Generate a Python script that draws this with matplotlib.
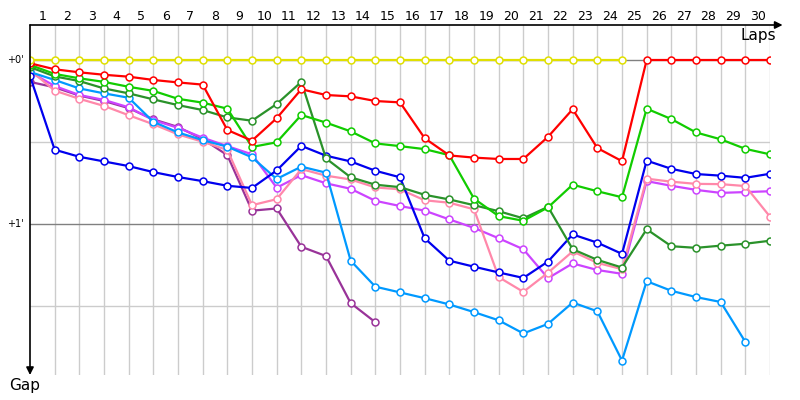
import numpy as np
import matplotlib
matplotlib.use("Agg")
from matplotlib import pyplot as plt

# laps 0..30, gap to leader in seconds (None = no data)
laps = list(range(0, 31))
lap_labels = [str(i) for i in range(1, 31)]

yellow = [0.0] * 25 + [None] * 6
red = [1.2, 3.4, 4.5, 5.4, 6.1, 7.3, 8.2, 9.0, 25.6, 29.5, 21.3, 10.7, 12.8, 13.3, 15.0, 15.5,
       28.6, 34.9, 35.7, 36.2, 36.2, 28.1, 18.0, 32.2, 37.0, 0, 0, 0, 0, 0, 0]
green = [1.8, 5.1, 6.7, 8.0, 9.8, 11.3, 14.2, 15.6, 17.8, 31.8, 30.1, 20.1, 22.9, 26.1, 30.5, 31.5,
         32.6, 34.8, 50.7, 57.1, 58.8, 53.9, 45.6, 48.0, 50.2, 17.8, 21.6, 26.5, 29.0, 32.5, 34.5]
darkgreen = [2.6, 6.0, 7.7, 10.4, 12.2, 14.4, 16.5, 18.3, 21.0, 22.2, 16.1, 8.0, 36.0, 42.9, 45.6, 46.5,
             49.3, 51.0, 53.1, 55.3, 57.9, 53.7, 69.2, 73.1, 75.9, 61.9, 68.1, 68.7, 67.9, 67.2, 66.1]
blue = [5.9, 32.8, 35.4, 37.1, 38.8, 41.0, 42.8, 44.3, 46.0, 46.8, 40.4, 31.4, 35.0, 37.1, 40.5, 42.9,
        65.2, 73.4, 75.6, 77.7, 79.7, 73.7, 63.8, 66.8, 70.9, 36.8, 39.8, 41.7, 42.3, 43.1, 41.6]
lightblue = [4.4, 7.3, 10.4, 12.2, 13.8, 22.6, 26.5, 29.3, 31.7, 35.6, 43.5, 39.0, 41.2, 73.4, 82.9, 85.0,
             87.1, 89.4, 92.2, 95.2, 100.0, 96.5, 88.7, 91.9, 109.9, 80.9, 84.4, 86.7, 88.5, 103.1, None]
pink = [3.7, 11.2, 14.2, 16.8, 20.2, 23.5, 27.2, 29.9, 32.9, 53.1, 50.9, 39.9, 42.3, 43.7, 46.6, 47.3,
        51.3, 52.2, 54.6, 79.4, 84.8, 77.8, 70.0, 74.2, 76.5, 43.4, 44.5, 45.3, 45.4, 46.1, 57.3]
violet = [4.4, 9.5, 12.8, 14.6, 17.3, 22.0, 24.8, 28.4, 31.5, 34.5, 46.7, 42.1, 45.1, 47.1, 51.5, 53.4,
          55.1, 58.3, 61.4, 65.2, 69.2, 79.8, 74.4, 76.8, 78.2, 44.3, 46.0, 47.5, 48.6, 48.3, 48.0]
purple = [8.0, 10.0, 13.0, 15.0, 17.6, 21.7, 24.5, 28.9, 34.8, 55.1, 54.3, 68.3, 71.7, 88.9, 95.9] + [None] * 16

series = [
    (purple, "#993399"),
    (violet, "#cc44ff"),
    (pink, "#ff88aa"),
    (lightblue, "#0099ff"),
    (blue, "#0000ee"),
    (darkgreen, "#2a922a"),
    (green, "#11cc00"),
    (red, "#ff0000"),
    (yellow, "#e0e000"),
]

fig = plt.figure(figsize=(8, 4), dpi=100)
ax = fig.add_axes([30 / 800, 25 / 400, 740 / 800, 350 / 400])

# grid
for x in laps[1:]:
    ax.axvline(x, color="#cccccc", lw=1, zorder=0)
for y in [30, 90]:
    ax.axhline(y, color="#cccccc", lw=1, zorder=0)
for y in [0, 60]:
    ax.axhline(y, color="#808080", lw=1, zorder=0)

for vals, col in series:
    v = np.array([np.nan if a is None else a for a in vals], dtype=float)
    ax.plot(laps, v, color=col, lw=1.6, marker="o", ms=5, mfc="white", mec=col, mew=1.1, zorder=3)

ax.set_xlim(0, 30)
ax.set_ylim(115.2, -12.8)
ax.set_xticks([])
ax.set_yticks([])
for s in ax.spines.values():
    s.set_visible(False)

# axes arrows
ax.annotate("", xy=(1.017, 1), xytext=(0, 1), xycoords="axes fraction",
            arrowprops=dict(arrowstyle="-|>", color="black", lw=1.2, mutation_scale=11,
                            shrinkA=0, shrinkB=0), annotation_clip=False)
ax.annotate("", xy=(0, 0), xytext=(0, 1), xycoords="axes fraction",
            arrowprops=dict(arrowstyle="-|>", color="black", lw=1.2, mutation_scale=11,
                            shrinkA=0, shrinkB=0), annotation_clip=False)

trans = ax.get_xaxis_transform()
for i, lab in enumerate(lap_labels):
    ax.text(i + 0.5, 1.023, lab, transform=trans, ha="center", va="center", fontsize=9)

ytrans = ax.get_yaxis_transform()
ax.text(-0.009, 0, "+0'", transform=ytrans, ha="right", va="center", fontsize=7)
ax.text(-0.009, 60, "+1'", transform=ytrans, ha="right", va="center", fontsize=7)

ax.text(1.008, 0.971, "Laps", transform=ax.transAxes, ha="right", va="center", fontsize=11)
ax.text(-0.007, -0.03, "Gap", transform=ax.transAxes, ha="center", va="center", fontsize=11)

fig.savefig("out.png", dpi=100)
